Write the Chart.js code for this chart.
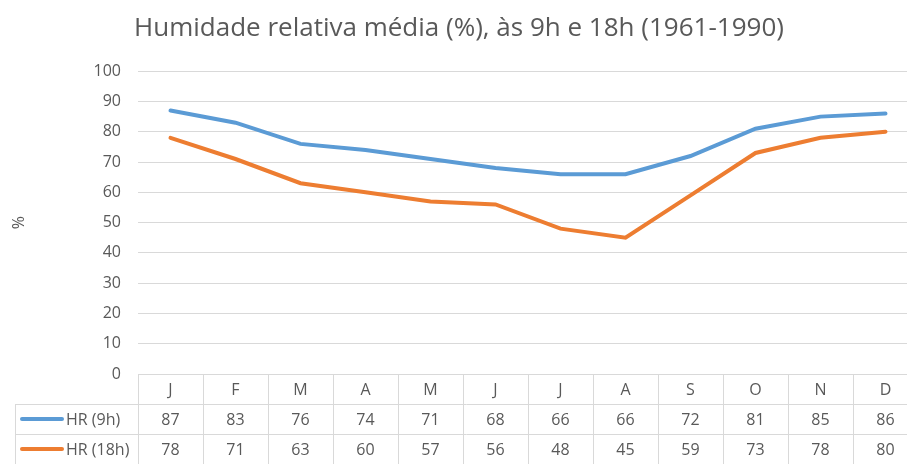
<!DOCTYPE html>
<html>
<head>
<meta charset="utf-8">
<script src="https://cdn.jsdelivr.net/npm/chart.js"></script>
<style>
  html, body { margin: 0; padding: 0; background: #fff; overflow: hidden; }
  #wrap { width: 920px; height: 464px; }
</style>
</head>
<body>
<div id="wrap"><canvas id="hrChart"></canvas></div>
<script>
const months = ['J', 'F', 'M', 'A', 'M', 'J', 'J', 'A', 'S', 'O', 'N', 'D'];
const hr9h = [87, 83, 76, 74, 71, 68, 66, 66, 72, 81, 85, 86];
const hr18h = [78, 71, 63, 60, 57, 56, 48, 45, 59, 73, 78, 80];
const yTicks = [0, 10, 20, 30, 40, 50, 60, 70, 80, 90, 100];

const textColor = '#595959';
const gridColor = '#d9d9d9';
const fontFamily = '"Open Sans", "Noto Sans", sans-serif';

// data table under the plot, aligned with the x scale
const dataTable = {
    id: 'dataTable',
    afterDraw(chart) {
        const c = chart.ctx;
        const x = chart.scales.x;
        const area = chart.chartArea;
        const rowH = 30;
        const top = area.bottom;
        const left = 15;
        const step = x.getPixelForValue(1) - x.getPixelForValue(0);
        const rows = [
            { label: 'HR (9h)', color: '#5b9bd5', values: hr9h },
            { label: 'HR (18h)', color: '#ed7d31', values: hr18h }
        ];

        c.save();
        c.strokeStyle = gridColor;
        c.lineWidth = 1;
        c.beginPath();
        // horizontal lines
        c.moveTo(area.left, top + 0.5);
        c.lineTo(area.right, top + 0.5);
        for (let r = 1; r <= 3; r++) {
            c.moveTo(left, top + r * rowH + 0.5);
            c.lineTo(area.right, top + r * rowH + 0.5);
        }
        // vertical lines
        c.moveTo(left + 0.5, top + rowH);
        c.lineTo(left + 0.5, top + 3 * rowH);
        for (let i = 0; i <= months.length; i++) {
            const px = Math.round(x.getPixelForValue(i) - step / 2) + 0.5;
            c.moveTo(px, top);
            c.lineTo(px, top + 3 * rowH);
        }
        c.stroke();

        c.font = '16px ' + fontFamily;
        c.fillStyle = textColor;
        c.textAlign = 'center';
        c.textBaseline = 'middle';
        months.forEach((m, i) => {
            c.fillText(m, x.getPixelForValue(i), top + rowH / 2 + 1);
        });
        rows.forEach((row, r) => {
            const cy = top + rowH * (r + 1) + rowH / 2 + 1;
            c.fillStyle = textColor;
            c.textAlign = 'center';
            row.values.forEach((v, i) => {
                c.fillText(String(v), x.getPixelForValue(i), cy);
            });
            c.strokeStyle = row.color;
            c.lineWidth = 4;
            c.lineCap = 'round';
            c.beginPath();
            c.moveTo(22, cy - 1);
            c.lineTo(62, cy - 1);
            c.stroke();
            c.textAlign = 'left';
            c.fillText(row.label, 66, cy);
        });
        c.restore();
    }
};

new Chart(document.getElementById('hrChart'), {
    type: 'line',
    data: {
        labels: months,
        datasets: [{
            label: 'HR (9h)',
            data: hr9h,
            borderColor: '#5b9bd5',
            backgroundColor: '#5b9bd5',
            borderWidth: 4,
            pointRadius: 0,
            borderCapStyle: 'round',
            tension: 0
        }, {
            label: 'HR (18h)',
            data: hr18h,
            borderColor: '#ed7d31',
            backgroundColor: '#ed7d31',
            borderWidth: 4,
            pointRadius: 0,
            borderCapStyle: 'round',
            tension: 0
        }]
    },
    options: {
        responsive: true,
        maintainAspectRatio: false,
        animation: false,
        layout: {
            padding: { top: 0, bottom: 90, left: 0, right: 2 }
        },
        plugins: {
            legend: { display: false },
            tooltip: { enabled: false },
            title: {
                display: true,
                text: 'Humidade relativa média (%), às 9h e 18h (1961-1990)',
                color: textColor,
                font: { family: fontFamily, size: 26, weight: 'normal' },
                padding: { top: 13, bottom: 27 }
            }
        },
        scales: {
            x: {
                offset: true,
                grid: { display: false, drawTicks: false },
                border: { display: false },
                ticks: { display: false }
            },
            y: {
                min: 0,
                max: 100,
                afterBuildTicks(scale) {
                    scale.ticks = yTicks.map(v => ({ value: v }));
                },
                afterFit(scale) {
                    scale.width = 138;
                },
                grid: { color: gridColor, drawTicks: false },
                border: { display: false },
                ticks: {
                    color: textColor,
                    padding: 17,
                    font: { family: fontFamily, size: 16 }
                },
                title: {
                    display: true,
                    text: '%',
                    color: textColor,
                    font: { family: fontFamily, size: 16 },
                    padding: { top: 10, bottom: 0 }
                }
            }
        }
    },
    plugins: [dataTable]
});
</script>
</body>
</html>
